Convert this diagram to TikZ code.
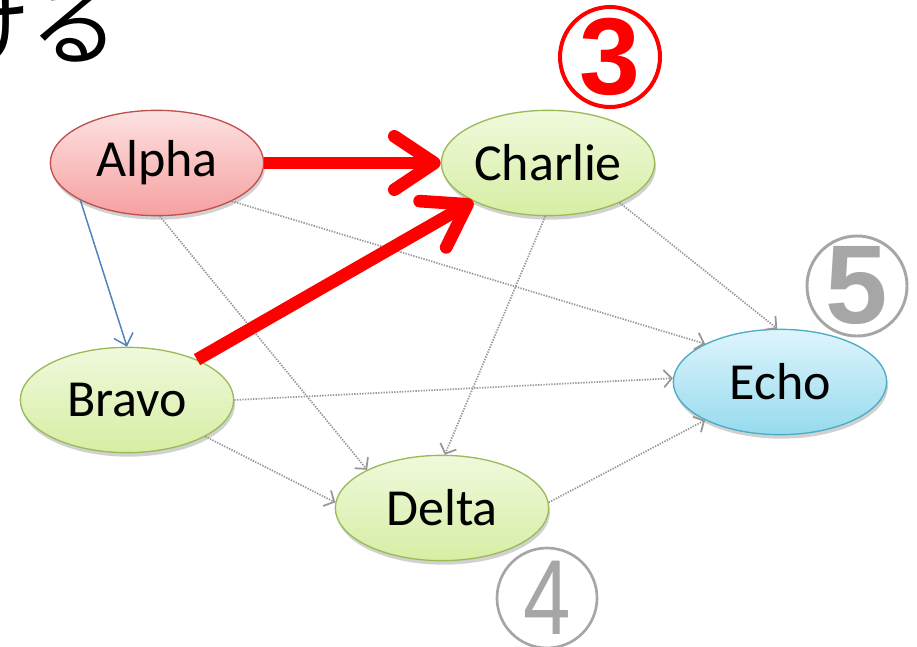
\documentclass[tikz,border=0pt]{standalone}
\usepackage{fontspec}
\setmainfont{Carlito}
\newfontfamily\jpfont{Noto Sans CJK JP}
\newfontfamily\numfont{Liberation Sans}
\usetikzlibrary{shapes.geometric,arrows.meta,shadows}
\definecolor{edgegray}{RGB}{150,150,150}
\definecolor{numgray}{RGB}{166,166,166}
\definecolor{linkblue}{RGB}{79,129,189}
\definecolor{pinkborder}{RGB}{192,80,77}
\definecolor{pinktop}{RGB}{253,226,226}
\definecolor{pinkbot}{RGB}{246,160,160}
\definecolor{greenborder}{RGB}{155,187,89}
\definecolor{greentop}{RGB}{240,249,220}
\definecolor{greenbot}{RGB}{214,238,164}
\definecolor{blueborder}{RGB}{75,172,198}
\definecolor{bluetop}{RGB}{222,245,252}
\definecolor{bluebot}{RGB}{150,218,238}
\tikzset{
  graphnode/.style={ellipse, inner sep=0pt, minimum width=160pt, minimum height=79pt,
    line width=1pt, font=\fontsize{39}{39}\selectfont,
    drop shadow={shadow xshift=1pt, shadow yshift=-3pt, opacity=0.18, fill=black}},
  rednode/.style={graphnode, draw=pinkborder, top color=pinktop, bottom color=pinkbot},
  greennode/.style={graphnode, draw=greenborder, top color=greentop, bottom color=greenbot},
  bluenode/.style={graphnode, draw=blueborder, top color=bluetop, bottom color=bluebot},
  redlink/.style={draw=red, line width=9.5pt,
    -{Straight Barb[length=30pt, width=40pt, round]}},
  bluelink/.style={draw=linkblue, line width=1.1pt,
    -{Straight Barb[length=8pt, width=15pt]}},
  graylink/.style={draw=edgegray, line width=1.3pt, dash pattern=on 1pt off 1pt,
    -{Straight Barb[length=6pt, width=13pt]}},
  numcircle/.style={circle, inner sep=0pt, minimum size=75pt},
}
\begin{document}
\begin{tikzpicture}[x=0.75pt,y=-0.75pt]
\useasboundingbox (0,0) rectangle (917,646);

% heading fragment
\node[anchor=base west, inner sep=0pt, font=\jpfont\fontsize{66}{66}\selectfont] (heading) at (-58,58) {ける};

% graph nodes
\node[rednode]   (alpha)   at (157,163) {Alpha};
\node[greennode] (charlie) at (548,163) {Charlie};
\node[greennode] (bravo)   at (127,400) {Bravo};
\node[greennode] (delta)   at (442,508) {Delta};
\node[bluenode]  (echo)    at (780,382) {Echo};

% step markers
\node[numcircle, draw=red, line width=3pt, text=red,
      font=\numfont\bfseries\fontsize{82}{82}\selectfont] (n3) at (610,57) {3};
\node[numcircle, draw=numgray, line width=2.2pt, text=numgray,
      font=\numfont\bfseries\fontsize{84}{84}\selectfont] (n5) at (857,286) {5};
\node[numcircle, draw=numgray, line width=2pt, text=numgray,
      font=\numfont\fontsize{80}{80}\selectfont] (n4) at (547,598) {\scalebox{0.8}[1]{4}};

% dotted links
\draw[graylink] (alpha.273)   -- (delta.153);
\draw[graylink] (alpha.333)   -- (echo.153);
\draw[graylink] (charlie.331) -- (echo.93);
\draw[graylink] (charlie.267) -- (delta.87);
\draw[graylink] (bravo.0)     -- (echo.178);
\draw[graylink] (bravo.335)   -- (delta.177);
\draw[graylink] (delta.3)     -- (echo.207);

% blue link
\draw[bluelink] (alpha.206) -- (bravo.90);

% highlighted links
\draw[redlink] (alpha.0)  -- (charlie.180);
\draw[redlink] (bravo.30) -- (charlie.207);
\end{tikzpicture}
\end{document}
